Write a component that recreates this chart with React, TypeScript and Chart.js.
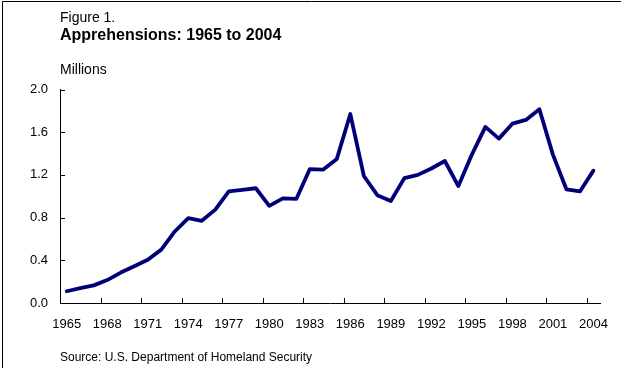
import React, { useEffect, useRef } from "react";
import { Chart, registerables } from "chart.js";

Chart.register(...registerables);

const years: string[] = [
  "1965","1966","1967","1968","1969","1970","1971","1972","1973","1974",
  "1975","1976","1977","1978","1979","1980","1981","1982","1983","1984",
  "1985","1986","1987","1988","1989","1990","1991","1992","1993","1994",
  "1995","1996","1997","1998","1999","2000","2001","2002","2003","2004",
];

const apprehensions: number[] = [
  0.11, 0.14, 0.165, 0.215, 0.285, 0.345, 0.405, 0.50, 0.67, 0.795,
  0.77, 0.875, 1.045, 1.06, 1.075, 0.91, 0.98, 0.975, 1.255, 1.25,
  1.35, 1.77, 1.19, 1.01, 0.955, 1.17, 1.20, 1.26, 1.33, 1.095,
  1.39, 1.65, 1.54, 1.68, 1.715, 1.815, 1.39, 1.065, 1.045, 1.24,
];

const xTickLabels: string[] = [
  "1965","1968","1971","1974","1977","1980","1983","1986","1989","1992","1995","1998","2001","2004",
];

const yTicks: number[] = [0, 0.4, 0.8, 1.2, 1.6, 2.0];

const figureLabel = "Figure 1.";
const titleText = "Apprehensions: 1965 to 2004";
const unitText = "Millions";
const sourceText = "Source: U.S. Department of Homeland Security";

const FONT = "'Liberation Sans', Arial, Helvetica, sans-serif";

const decorPlugin = {
  id: "decor",
  afterDraw(chart: any) {
    const ctx = chart.ctx as CanvasRenderingContext2D;
    const xs = chart.scales.x;
    const ys = chart.scales.y;
    const area = chart.chartArea;
    ctx.save();
    // frame (top + left)
    ctx.strokeStyle = "#000";
    ctx.lineWidth = 1;
    ctx.beginPath();
    ctx.moveTo(2.5, 368);
    ctx.lineTo(2.5, 1.5);
    ctx.lineTo(621, 1.5);
    ctx.stroke();

    // inward tick marks on x axis at category boundaries
    ctx.beginPath();
    for (let i = 3; i < years.length; i += 3) {
      const x = Math.round((xs.getPixelForValue(i - 1) + xs.getPixelForValue(i)) / 2) + 0.5;
      ctx.moveTo(x, area.bottom);
      ctx.lineTo(x, area.bottom - 5);
    }
    // inward tick marks on y axis
    for (const v of yTicks) {
      const y = Math.round(ys.getPixelForValue(v)) + 0.5;
      ctx.moveTo(area.left, y);
      ctx.lineTo(area.left + 5, y);
    }
    ctx.stroke();

    // texts
    ctx.fillStyle = "#000";
    ctx.textAlign = "left";
    ctx.textBaseline = "alphabetic";
    ctx.font = `14px ${FONT}`;
    ctx.fillText(figureLabel, 60, 22);
    ctx.font = `bold 16px ${FONT}`;
    ctx.fillText(titleText, 60, 40);
    ctx.font = `14px ${FONT}`;
    ctx.fillText(unitText, 60, 74);
    ctx.font = `12px ${FONT}`;
    ctx.fillText(sourceText, 60, 361);
    ctx.restore();
  },
};

export default function App() {
  const ref = useRef<HTMLCanvasElement | null>(null);

  useEffect(() => {
    document.body.style.margin = "0";
    document.body.style.background = "#fff";
    const canvas = ref.current;
    if (!canvas) return;
    const chart = new Chart(canvas, {
      type: "line",
      data: {
        labels: years,
        datasets: [
          {
            data: apprehensions,
            borderColor: "#000078",
            borderWidth: 3.8,
            pointRadius: 0,
            tension: 0,
            borderJoinStyle: "round",
            borderCapStyle: "round",
            fill: false,
          },
        ],
      },
      options: {
        responsive: false,
        animation: false,
        devicePixelRatio: 1,
        layout: { padding: { left: 0, right: 11, top: 89.5, bottom: 35 } },
        plugins: {
          legend: { display: false },
          title: { display: false },
          tooltip: { enabled: false },
        },
        scales: {
          x: {
            type: "category",
            offset: true,
            grid: { display: false, drawTicks: false },
            border: { display: true, color: "#000", width: 1 },
            ticks: {
              autoSkip: false,
              maxRotation: 0,
              minRotation: 0,
              padding: 14,
              color: "#000",
              font: { family: FONT, size: 13 },
              callback: (_v: any, idx: number) =>
                xTickLabels.includes(years[idx]) ? years[idx] : "",
            },
            afterFit: (s: any) => {
              s.height = 30;
            },
          },
          y: {
            min: 0,
            max: 2,
            grid: { display: false, drawTicks: false },
            border: { display: true, color: "#000", width: 1 },
            ticks: {
              stepSize: 0.4,
              padding: 12,
              color: "#000",
              font: { family: FONT, size: 13 },
              callback: (v: any) => Number(v).toFixed(1),
            },
            afterFit: (s: any) => {
              s.width = 60;
            },
          },
        },
      },
      plugins: [decorPlugin],
    });
    return () => chart.destroy();
  }, []);

  return (
    <div style={{ position: "absolute", left: 0, top: 0, width: 622, height: 368, background: "#fff" }}>
      <canvas ref={ref} width={622} height={368} style={{ width: 622, height: 368, display: "block" }} />
    </div>
  );
}
